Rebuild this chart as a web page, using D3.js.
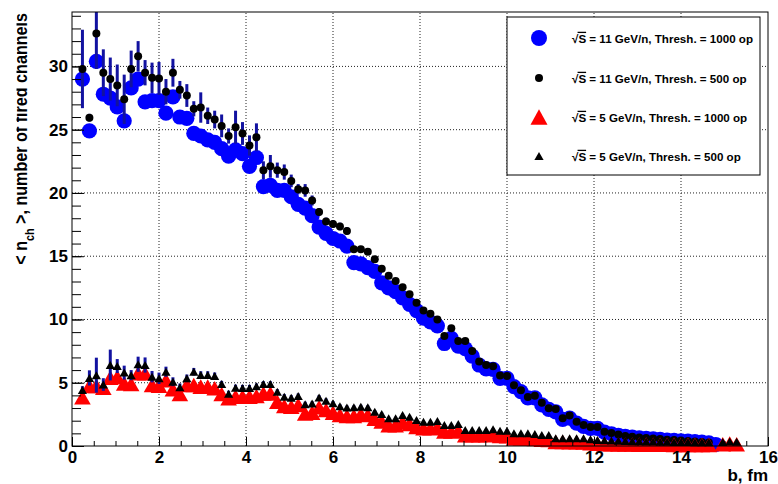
<!DOCTYPE html>
<html>
<head>
<meta charset="utf-8">
<script src="https://cdn.jsdelivr.net/npm/d3@7"></script>
<style>
  body { margin: 0; background: #fff; }
  text { font-family: "Liberation Sans", Arial, Helvetica, sans-serif; font-weight: bold; }
</style>
</head>
<body>
<div id="chart"></div>
<script>
// impact parameter bin centres (fm)
const bCenters = [0.24,0.40,0.56,0.72,0.88,1.04,1.20,1.36,1.52,1.68,1.84,2.00,2.16,2.32,2.48,2.64,2.80,2.96,3.12,3.28,
  3.44,3.60,3.76,3.92,4.08,4.24,4.40,4.56,4.72,4.88,5.04,5.20,5.36,5.52,5.68,5.84,6.00,6.16,6.32,6.48,
  6.64,6.80,6.96,7.12,7.28,7.44,7.60,7.76,7.92,8.08,8.24,8.40,8.56,8.72,8.88,9.04,9.20,9.36,9.52,9.68,
  9.84,10.00,10.16,10.32,10.48,10.64,10.80,10.96,11.12,11.28,11.44,11.60,11.76,11.92,12.08,12.24,12.40,12.56,12.72,12.88,
  13.04,13.20,13.36,13.52,13.68,13.84,14.00,14.16,14.32,14.48,14.64,14.80,14.96,15.12,15.28];

// sqrt(s) = 11 GeV/n, threshold 1000 op (big blue circles)
const nch11_1000 = [29.0,24.9,30.4,27.8,27.5,26.8,25.7,28.3,29.0,27.2,
  27.3,27.3,26.3,27.6,26.0,25.9,24.7,24.5,24.2,24.0,
  23.5,22.9,23.4,23.1,22.1,22.8,20.5,20.6,20.2,20.2,
  19.7,19.1,18.8,18.2,17.3,16.8,16.4,16.2,15.8,14.5,
  14.4,14.1,13.8,12.9,12.5,12.2,11.7,11.2,10.7,10.1,
  9.8,9.5,8.1,8.5,7.9,7.7,7.1,6.4,6.1,6.05,
  5.35,5.35,4.7,4.3,3.8,3.8,3.25,2.9,2.7,2.1,
  2.2,1.8,1.55,1.4,1.4,1.1,0.97,0.85,0.76,0.7,
  0.65,0.6,0.56,0.52,0.47,0.45,0.41,0.38,0.34,0.3,
  0.24,0.12,null,null,null];

// sqrt(s) = 11 GeV/n, threshold 500 op (small black circles)
const nch11_500 = [29.8,25.95,32.6,29.5,29.0,28.5,27.4,29.8,30.8,29.5,
  29.1,29.05,28.0,29.5,28.15,27.7,26.65,26.75,26.1,25.8,
  25.3,24.5,25.2,24.7,23.75,24.4,21.8,22.1,21.8,21.65,
  20.95,20.3,20.2,19.4,18.5,17.75,17.55,17.35,17.0,15.55,
  15.55,15.35,14.75,14.0,13.45,13.05,12.55,12.0,11.33,10.7,
  10.45,10.0,8.7,9.3,8.3,8.3,7.5,6.67,6.4,6.3,
  5.57,5.53,4.8,4.4,3.88,3.98,3.42,2.98,2.92,2.19,
  2.42,1.92,1.66,1.5,1.5,1.13,1.02,0.9,0.8,0.73,
  0.68,0.63,0.59,0.55,0.5,0.47,0.44,0.4,0.36,0.32,
  0.27,null,null,null,null];
const err11_500 = [3.1,0.3,2.8,1.85,1.7,1.65,1.95,1.45,1.2,1.0,
  1.2,1.3,1.0,1.1,0.7,0.9,0.6,1.2,0.65,0.7,
  0.9,0.6,1.3,0.9,0.8,1.1,0.7,0.9,0.6,0.6,
  0.5,0.4,0.5,0.4,0.3,0.3,0.3,0.3,0.3,0.25,
  0.25,0.25,0.2,0.2,0.2,0.2,0.2,0.2,0.2,0.18,
  0.18,0.18,0.18,0.18,0.15,0.15,0.15,0.15,0.15,0.15,
  0.12,0.12,0.12,0.12,0.12,0.12,0.1,0.1,0.1,0.1,
  0.1,0.1,0.08,0.08,0.08,0.08,0.08,0.06,0.06,0.06,
  0.06,0.06,0.05,0.05,0.05,0.05,0.05,0.05,0.05,0.05,
  0.05,null,null,null,null];

// sqrt(s) = 5 GeV/n, threshold 1000 op (big red triangles)
const nch5_1000 = [3.85,4.75,4.75,4.6,5.4,5.45,4.95,4.9,5.75,5.75,
  4.82,4.77,5.2,4.48,4.11,4.82,4.82,4.69,4.69,4.56,
  4.11,3.77,3.9,3.9,3.9,3.95,4.16,4.16,3.5,3.16,
  3.1,3.24,2.58,2.64,3.06,2.85,2.64,2.45,2.37,2.37,
  2.5,2.45,2.15,1.95,1.65,1.65,1.9,1.75,1.5,1.4,
  1.4,1.45,1.15,1.15,1.2,0.85,0.85,0.85,0.85,0.9,
  0.8,0.78,0.6,0.6,0.58,0.55,0.5,0.48,0.32,0.32,
  0.3,0.3,0.28,0.22,0.18,0.15,0.14,0.13,0.12,0.12,
  0.11,0.11,0.1,0.1,0.1,0.09,0.09,0.09,0.08,0.08,
  0.08,null,0.14,0.2,0.14];

// sqrt(s) = 5 GeV/n, threshold 500 op (small black triangles)
const nch5_500 = [4.43,5.38,5.6,4.86,6.4,6.32,5.8,5.6,6.46,6.4,
  5.48,5.35,5.87,5.08,4.64,5.35,5.87,5.61,5.61,5.53,
  4.9,4.12,4.6,4.58,4.58,4.72,4.9,4.9,4.29,3.9,
  3.82,3.95,3.3,3.35,3.84,3.58,3.38,3.14,3.05,3.06,
  3.11,3.06,2.71,2.53,2.19,2.19,2.45,2.32,2.06,1.92,
  1.92,1.98,1.66,1.66,1.74,1.26,1.26,1.26,1.26,1.32,
  1.21,1.21,1.0,1.0,1.0,0.95,0.87,0.87,0.61,0.61,
  0.61,0.61,0.61,0.53,0.48,0.45,0.43,0.42,0.4,0.38,
  0.37,0.36,0.35,0.34,0.33,0.32,0.32,0.31,0.3,0.3,
  0.3,null,0.32,0.36,0.33];
const err5_500 = [0.3,0.6,1.38,0.5,1.22,0.55,0.55,0.4,0.6,0.6,
  0.45,0.45,0.4,0.35,0.3,0.3,0.3,0.3,0.3,0.28,
  0.25,0.25,0.25,0.25,0.25,0.22,0.22,0.22,0.2,0.2,
  0.2,0.2,0.2,0.18,0.18,0.18,0.18,0.15,0.15,0.15,
  0.15,0.15,0.12,0.12,0.12,0.12,0.12,0.12,0.1,0.1,
  0.1,0.1,0.1,0.1,0.1,0.08,0.08,0.08,0.08,0.08,
  0.08,0.08,0.06,0.06,0.06,0.06,0.06,0.06,0.05,0.05,
  0.05,0.05,0.05,0.05,0.05,0.05,0.04,0.04,0.04,0.04,
  0.04,0.04,0.04,0.04,0.04,0.04,0.04,0.04,0.04,0.04,
  0.04,null,0.04,0.04,0.04];

const xTicks = [0, 2, 4, 6, 8, 10, 12, 14, 16];
const yTicks = [0, 5, 10, 15, 20, 25, 30];
const legendLabels = [
  {energy: "11", thr: "1000"},
  {energy: "11", thr: "500"},
  {energy: "5", thr: "1000"},
  {energy: "5", thr: "500"}
];

const W = 778, H = 484;
const errColor = "#1212a0";

const svg = d3.select("#chart").append("svg")
  .attr("width", W)
  .attr("height", H);

const x = d3.scaleLinear().domain([0, 16]).range([72, 768]);
const y = d3.scaleLinear().domain([0, 34.3]).range([446, 12]);

function series(vals, errs) {
  return bCenters.map((b, i) => ({b: b, v: vals[i], e: errs ? errs[i] : 0}))
    .filter(d => d.v != null);
}

// clip for error bars (ROOT clips them to the frame)
svg.append("clipPath").attr("id", "frameClip")
  .append("rect").attr("x", 72).attr("y", 12).attr("width", 696).attr("height", 434);

// dotted grid
const grid = svg.append("g");
grid.selectAll(".gx").data(xTicks.filter(d => d > 0 && d < 16)).enter().append("line")
  .attr("x1", d => x(d)).attr("x2", d => x(d))
  .attr("y1", y(0)).attr("y2", y(34.3))
  .attr("stroke", "#222").attr("stroke-width", 1).attr("stroke-dasharray", "1,2");
grid.selectAll(".gy").data(yTicks.filter(d => d > 0)).enter().append("line")
  .attr("x1", x(0)).attr("x2", x(16))
  .attr("y1", d => y(d)).attr("y2", d => y(d))
  .attr("stroke", "#222").attr("stroke-width", 1).attr("stroke-dasharray", "1,2");

function triPath(cx, cy, hw, hh) {
  return "M" + cx + "," + (cy - hh) + "L" + (cx + hw) + "," + (cy + hh) + "L" + (cx - hw) + "," + (cy + hh) + "Z";
}

// 11 GeV/n, 1000 op
svg.append("g").selectAll("circle")
  .data(series(nch11_1000)).enter().append("circle")
  .attr("cx", d => x(d.b)).attr("cy", d => y(d.v))
  .attr("r", 7.6).attr("fill", "#0000ff");

// error bars for 11 GeV/n, 500 op
svg.append("g").attr("clip-path", "url(#frameClip)").selectAll("line")
  .data(series(nch11_500, err11_500)).enter().append("line")
  .attr("x1", d => x(d.b)).attr("x2", d => x(d.b))
  .attr("y1", d => y(d.v - d.e)).attr("y2", d => y(d.v + d.e))
  .attr("stroke", errColor).attr("stroke-width", 3);

svg.append("g").selectAll("circle")
  .data(series(nch11_500)).enter().append("circle")
  .attr("cx", d => x(d.b)).attr("cy", d => y(d.v))
  .attr("r", 4).attr("fill", "#000");

// 5 GeV/n, 1000 op
svg.append("g").selectAll("path")
  .data(series(nch5_1000)).enter().append("path")
  .attr("d", d => triPath(x(d.b), y(d.v), 8.3, 7.3))
  .attr("fill", "#ff0000");

svg.append("g").attr("clip-path", "url(#frameClip)").selectAll("line")
  .data(series(nch5_500, err5_500)).enter().append("line")
  .attr("x1", d => x(d.b)).attr("x2", d => x(d.b))
  .attr("y1", d => y(d.v - d.e)).attr("y2", d => y(d.v + d.e))
  .attr("stroke", errColor).attr("stroke-width", 3);

svg.append("g").selectAll("path")
  .data(series(nch5_500)).enter().append("path")
  .attr("d", d => triPath(x(d.b), y(d.v), 4.6, 4))
  .attr("fill", "#000");

// frame
svg.append("rect")
  .attr("x", x(0)).attr("y", y(34.3))
  .attr("width", x(16) - x(0)).attr("height", y(0) - y(34.3))
  .attr("fill", "none").attr("stroke", "#000").attr("stroke-width", 1);

// axes, ticks drawn inside the frame
const xMinor = svg.append("g").attr("transform", "translate(0,446)")
  .call(d3.axisBottom(x).ticks(32).tickSize(-5).tickFormat(""));
const xAxis = svg.append("g").attr("transform", "translate(0,446)")
  .call(d3.axisBottom(x).tickValues(xTicks).tickSize(-9).tickPadding(5).tickFormat(d3.format("d")));
const yMinor = svg.append("g").attr("transform", "translate(72,0)")
  .call(d3.axisLeft(y).tickValues(d3.range(0, 35)).tickSize(-9).tickFormat(""));
const yAxis = svg.append("g").attr("transform", "translate(72,0)")
  .call(d3.axisLeft(y).tickValues(yTicks).tickSize(-12).tickPadding(4).tickFormat(d3.format("d")));

[xMinor, xAxis, yMinor, yAxis].forEach(g => {
  g.select(".domain").remove();
  g.selectAll("line").attr("stroke", "#000");
  g.selectAll("text").attr("font-size", 17).attr("fill", "#000")
    .attr("font-family", "'Liberation Sans', Arial, Helvetica, sans-serif").attr("font-weight", "bold");
});

// axis titles
svg.append("text")
  .attr("x", 768).attr("y", 481)
  .attr("text-anchor", "end")
  .attr("font-size", 17)
  .text("b, fm");

// y title, squeezed along its length like the original
svg.append("clipPath").attr("id", "yTitleClip")
  .call(cp => {
    cp.append("rect").attr("x", 16.5).attr("y", 0).attr("width", 50).attr("height", 150);
    cp.append("rect").attr("x", 0).attr("y", 150).attr("width", 66).attr("height", 334);
  });
const yTitleG = svg.append("g").attr("clip-path", "url(#yTitleClip)")
  .append("g");
const yTitle = yTitleG.append("text")
  .attr("text-anchor", "end")
  .attr("font-size", 18);
yTitle.append("tspan").text("< n");
yTitle.append("tspan").attr("font-size", 12).attr("dy", 7).text("ch");
yTitle.append("tspan").attr("dy", -7).text(" >, number of fired channels");
const tw = yTitle.node().getBBox().width;
yTitleG.attr("transform", "translate(27,13) rotate(-90) scale(" + (252 / tw) + ",1)");

// legend
const legend = svg.append("g");
legend.append("rect")
  .attr("x", 507).attr("y", 17).attr("width", 253).attr("height", 158)
  .attr("fill", "#fff").attr("stroke", "#000").attr("stroke-width", 1);

const rowY = [38, 78, 117, 156];
legend.append("circle").attr("cx", 539).attr("cy", rowY[0]).attr("r", 8).attr("fill", "#0000ff");
legend.append("circle").attr("cx", 539).attr("cy", rowY[1]).attr("r", 4).attr("fill", "#000");
legend.append("path").attr("d", triPath(539, rowY[2], 8.5, 7.8)).attr("fill", "#ff0000");
legend.append("path").attr("d", triPath(539, rowY[3], 4.6, 4)).attr("fill", "#000");

legendLabels.forEach((l, i) => {
  const t = legend.append("text")
    .attr("x", 572).attr("y", rowY[i] + 4.5)
    .attr("font-size", 11.6);
  t.append("tspan").text("\u221A");
  t.append("tspan").text("S = " + l.energy + " GeV/n, Thresh. = " + l.thr + " op");
  // radical bar over the S
  const node = t.node();
  const rw = node.getSubStringLength(0, 1);
  const sw = node.getSubStringLength(1, 1);
  legend.append("line")
    .attr("x1", 572 + rw - 0.8).attr("x2", 572 + rw + sw)
    .attr("y1", rowY[i] - 5.6).attr("y2", rowY[i] - 5.6)
    .attr("stroke", "#000").attr("stroke-width", 1.3);
});
</script>
</body>
</html>
